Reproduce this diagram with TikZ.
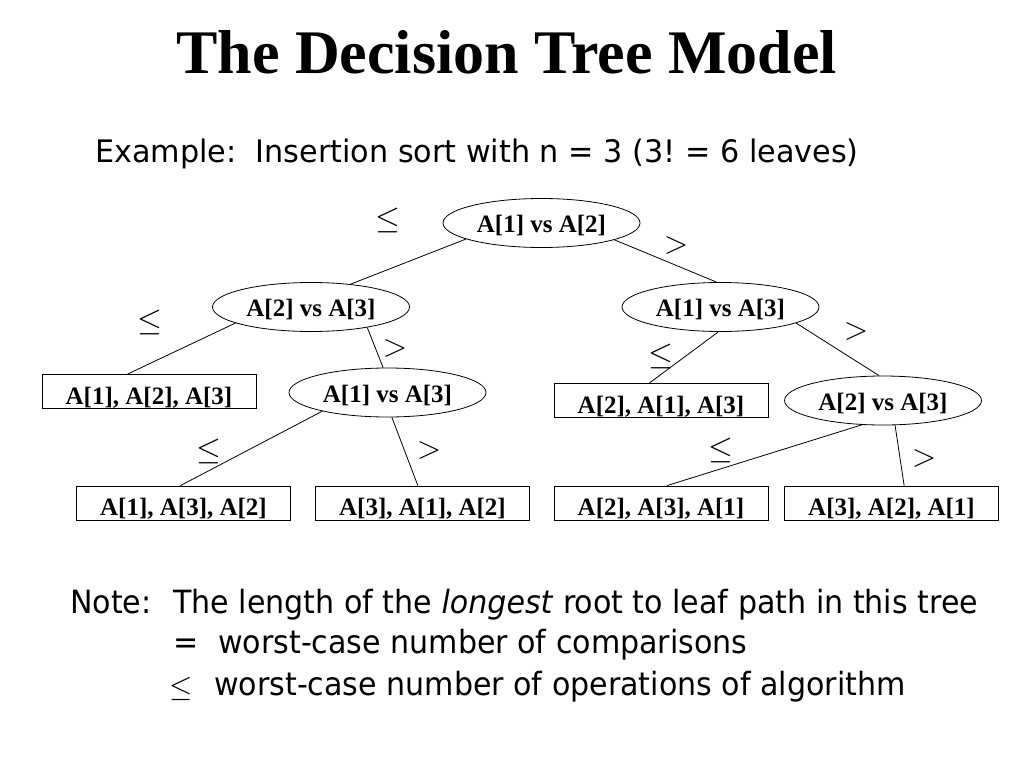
\RequirePackage{fix-cm}
\documentclass[tikz,border=0pt]{standalone}
\usepackage{fontspec}
\setmainfont{Liberation Serif}
\setsansfont[FakeStretch=0.94]{DejaVu Sans}
\newfontfamily\examplefont[FakeStretch=0.975]{DejaVu Sans}
\usetikzlibrary{shapes.geometric}

\tikzset{test node/.style={
		ellipse, draw, line width=0.8pt,
		minimum width=197pt, minimum height=49pt, inner sep=0pt,
		text height=19pt, text depth=0pt,
		font=\fontsize{25}{25}\selectfont\bfseries
	},
	leaf node/.style={
		rectangle, draw, line width=0.8pt,
		minimum width=214pt, minimum height=34pt, inner sep=0pt,
		text height=25pt, text depth=0pt,
		font=\fontsize{25}{25}\selectfont\bfseries
	},
	edge label/.style={inner sep=0pt, font=\fontsize{32}{32}\selectfont},
	slide text/.style={anchor=base west, inner sep=0pt, font=\sffamily\fontsize{#1}{#1}\selectfont}
}
\frenchspacing

\begin{document}
\begin{tikzpicture}[x=1pt, y=-1pt]
		\useasboundingbox [fill=white] (0,0) rectangle (1024,768);
		% title and example line
		\node [anchor=base, inner sep=0pt, font=\fontsize{62}{62}\selectfont\bfseries] (title) at (506.5,74) {The Decision Tree Model};
		\node [anchor=base west, inner sep=0pt, font=\examplefont\fontsize{31}{31}\selectfont] (example) at (95,162) {Example:\ \ Insertion sort with n = 3 (3! = 6 leaves)};
		% comparisons
		\node [test node] (root) at (541.5,223) {A[1] vs A[2]};
		\node [test node] (lc) at (311,307) {A[2] vs A[3]};
		\node [test node] (rc) at (720.5,307) {A[1] vs A[3]};
		\node [test node] (lcr) at (387.5,392.5) {A[1] vs A[3]};
		\node [test node] (rcr) at (883,400.5) {A[2] vs A[3]};
		% leaves
		\node [leaf node] (l123) at (149,391.5) {A[1], A[2], A[3]};
		\node [leaf node] (l213) at (661,400.5) {A[2], A[1], A[3]};
		\node [leaf node] (l132) at (183.5,503) {A[1], A[3], A[2]};
		\node [leaf node] (l312) at (422.5,503) {A[3], A[1], A[2]};
		\node [leaf node] (l231) at (661,503) {A[2], A[3], A[1]};
		\node [leaf node] (l321) at (891.5,503) {A[3], A[2], A[1]};
		% edges
		\draw [line width=0.8pt] (root.192) -- (lc.30);
		\draw [line width=0.8pt] (root.347) -- (rc.99);
		\draw [line width=0.8pt] (lc.192) -- (l123.141);
		\draw [line width=0.8pt] (lc.340) -- (lcr.100);
		\draw [line width=0.8pt] (lcr.196) -- (l132.100);
		\draw [line width=0.8pt] (lcr.280) -- (l312.105);
		\draw [line width=0.8pt] (rc.265) -- (l213.124);
		\draw [line width=0.8pt] (rc.348) -- (rcr.99);
		\draw [line width=0.8pt] (rcr.229) -- (l231.71);
		\draw [line width=0.8pt] (rcr.296) -- (l321.54);
		% branch labels
		\foreach \x/\y [count=\i] in {388/220, 150/322, 209/451, 661/356, 721/450}
			\node [edge label] (le\i) at (\x,\y) {$\leq$};
		\foreach \x/\y [count=\i] in {676/245, 395/348, 429/450, 856/331, 924/458}
			\node [edge label] (gt\i) at (\x,\y) {$>$};
		% note
		\node [slide text=32] (note) at (70,613) {Note:};
		\node [slide text=32] (line1) at (173,613) {The length of the \textit{longest} root to leaf path in this tree};
		\node [slide text=32] (eq) at (173,653) {=};
		\node [slide text=32] (line2) at (218,653) {worst-case number of comparisons};
		\node [edge label, font=\fontsize{30}{30}\selectfont] (le) at (181,689) {$\leq$};
		\node [slide text=32] (line3) at (214,695) {worst-case number of operations of algorithm};
	\end{tikzpicture}
\end{document}
